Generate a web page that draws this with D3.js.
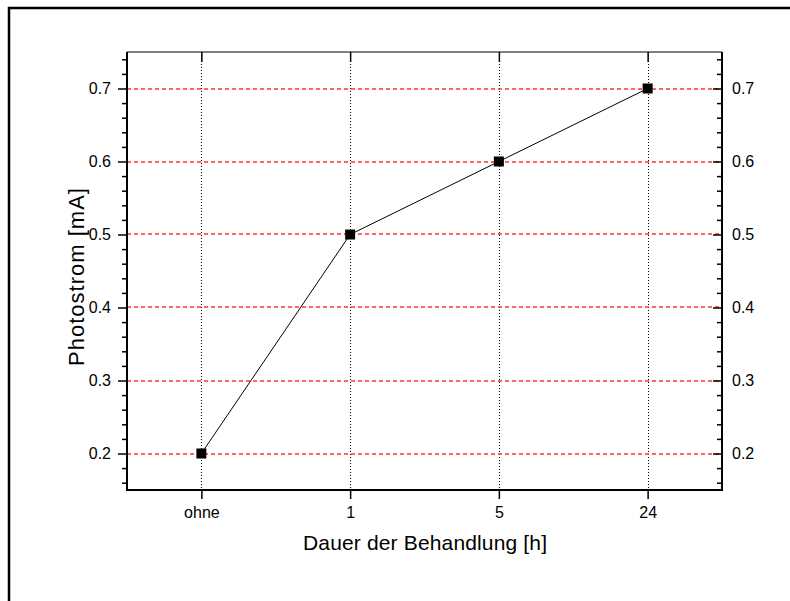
<!DOCTYPE html>
<html>
<head>
<meta charset="utf-8">
<script src="https://d3js.org/d3.v7.min.js"></script>
<style>
  body { margin: 0; background: #fff; }
  text { font-family: "Liberation Sans", Arial, sans-serif; fill: #000; }
</style>
</head>
<body>
<svg id="mainsvg" width="790" height="601"></svg>
<script>
const categories = ['ohne', '1', '5', '24'];
const photostrom = [0.2, 0.5, 0.6, 0.7];
const yTicks = [0.2, 0.3, 0.4, 0.5, 0.6, 0.7];

const svg = d3.select('#mainsvg');
const margin = { top: 52, left: 127, right: 68, bottom: 111 };
const width = 790, height = 601;
const innerW = width - margin.left - margin.right;
const innerH = height - margin.top - margin.bottom;

// outer frame (right and bottom sides fall outside the picture)
svg.append('rect')
  .attr('x', 9).attr('y', 8)
  .attr('width', 800).attr('height', 620)
  .attr('fill', 'none').attr('stroke', '#000').attr('stroke-width', 2.5);

const g = svg.append('g').attr('transform', `translate(${margin.left},${margin.top})`);

const x = d3.scaleLinear().domain([0.5, categories.length + 0.5]).range([0, innerW]);
const y = d3.scaleLinear().domain([0.15, 0.75]).range([innerH, 0]);
const px = v => Math.round(x(v)) + 0.5;

const minorTicks = d3.range(0.16, 0.7501, 0.02).filter(t => !yTicks.some(m => Math.abs(m - t) < 1e-6));

// grid
g.append('g').selectAll('line').data(categories).join('line')
  .attr('x1', (d, i) => px(i + 1)).attr('x2', (d, i) => px(i + 1))
  .attr('y1', 0).attr('y2', innerH)
  .attr('stroke', '#000').attr('stroke-width', 1).attr('stroke-dasharray', '1,2');
g.append('g').selectAll('line').data(yTicks).join('line')
  .attr('x1', 0).attr('x2', innerW)
  .attr('y1', d => Math.round(y(d))).attr('y2', d => Math.round(y(d)))
  .attr('stroke', '#ff3333').attr('stroke-width', 1.6).attr('stroke-dasharray', '4,3');

// axes
const fmt = d3.format('.1f');
function styleAxis(sel) {
  sel.select('.domain').remove();
  sel.selectAll('.tick line').attr('stroke', '#000').attr('stroke-width', 1.5);
  sel.selectAll('.tick text').style('font-size', '16px')
    .style('font-family', '"Liberation Sans", Arial, sans-serif');
}
g.append('g').call(d3.axisLeft(y).tickValues(yTicks).tickFormat(fmt).tickSize(9).tickPadding(7)).call(styleAxis);
g.append('g').call(d3.axisLeft(y).tickValues(minorTicks).tickFormat('').tickSize(5)).call(styleAxis);
// right axis: ticks point inward, labels outside
g.append('g').attr('transform', `translate(${innerW},0)`)
  .call(d3.axisLeft(y).tickValues(yTicks).tickFormat('').tickSize(9)).call(styleAxis);
g.append('g').attr('transform', `translate(${innerW},0)`)
  .call(d3.axisLeft(y).tickValues(minorTicks).tickFormat('').tickSize(5)).call(styleAxis);
g.append('g').attr('transform', `translate(${innerW},0)`)
  .call(d3.axisRight(y).tickValues(yTicks).tickFormat(fmt).tickSize(0).tickPadding(10)).call(styleAxis);
g.append('g').attr('transform', `translate(0,${innerH})`)
  .call(d3.axisBottom(x).tickValues(d3.range(1, categories.length + 1))
    .tickFormat(d => categories[d - 1]).tickSize(9).tickPadding(8)).call(styleAxis);
g.append('g')
  .call(d3.axisBottom(x).tickValues(d3.range(1, categories.length + 1)).tickFormat('').tickSize(10)).call(styleAxis);

// plot box
g.append('line').attr('x1', 0).attr('x2', innerW).attr('y1', 0).attr('y2', 0).attr('stroke', '#000').attr('stroke-width', 1.2);
g.append('line').attr('x1', -1).attr('x2', innerW + 1).attr('y1', innerH).attr('y2', innerH).attr('stroke', '#000').attr('stroke-width', 2);
g.append('line').attr('x1', 0).attr('x2', 0).attr('y1', 0).attr('y2', innerH + 1).attr('stroke', '#000').attr('stroke-width', 2);
g.append('line').attr('x1', innerW).attr('x2', innerW).attr('y1', 0).attr('y2', innerH + 1).attr('stroke', '#000').attr('stroke-width', 2);

// data line + markers
const line = d3.line().x((d, i) => x(i + 1)).y(d => y(d));
g.append('path').datum(photostrom).attr('d', line)
  .attr('fill', 'none').attr('stroke', '#000').attr('stroke-width', 1);
g.append('g').selectAll('rect').data(photostrom).join('rect')
  .attr('x', (d, i) => x(i + 1) - 5).attr('y', d => y(d) - 5)
  .attr('width', 10).attr('height', 10).attr('fill', '#000');

// titles
svg.append('text')
  .attr('x', 425).attr('y', 550)
  .attr('text-anchor', 'middle').style('font-size', '21px')
  .attr('textLength', 244).attr('lengthAdjust', 'spacing')
  .text('Dauer der Behandlung [h]');
svg.append('text')
  .attr('transform', `translate(84,277) rotate(-90)`)
  .attr('text-anchor', 'middle').style('font-size', '22px')
  .attr('textLength', 178).attr('lengthAdjust', 'spacing')
  .text('Photostrom [mA]');
</script>
</body>
</html>
